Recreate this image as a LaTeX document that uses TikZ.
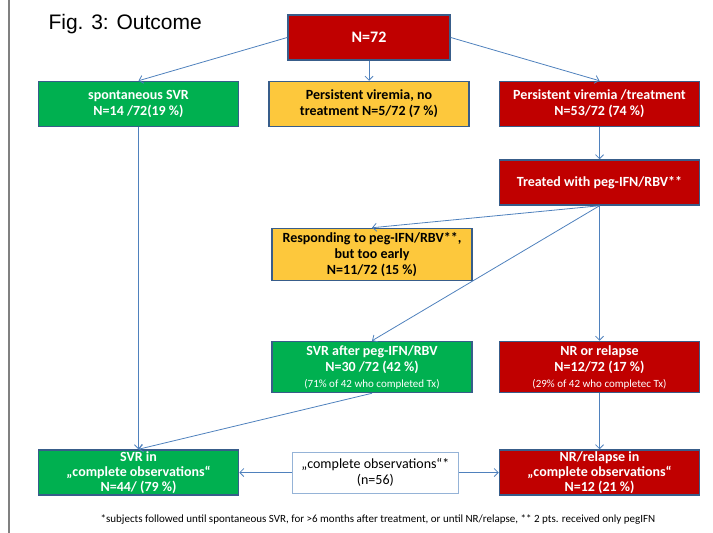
\documentclass[tikz,border=0pt]{standalone}
\usepackage{fontspec}
\setmainfont{Carlito}
\newfontfamily\arialfont{Liberation Sans}
\usetikzlibrary{positioning,arrows.meta}

\definecolor{boxred}{HTML}{C00000}
\definecolor{boxgreen}{HTML}{00B050}
\definecolor{boxyellow}{HTML}{FDC83C}
\definecolor{boxline}{HTML}{385D8A}
\definecolor{arrowblue}{HTML}{4F81BD}
\definecolor{lightframe}{HTML}{95B3D7}
\newcommand{\smallnote}[1]{{\fontsize{11}{13}\selectfont\mdseries #1}}

\begin{document}
\begin{tikzpicture}[
    x=1pt, y=-1pt,
    node distance=20pt and 29pt,
    >={Straight Barb[length=4pt,width=8pt]},
    box/.style={
        draw=boxline,
        line width=1.5pt,
        align=center,
        minimum width=200pt,
        minimum height=45pt,
        inner sep=1pt,
        font=\fontsize{14}{16}\selectfont\bfseries
    },
    redbox/.style={box, fill=boxred, text=white},
    greenbox/.style={box, fill=boxgreen, text=white},
    yellowbox/.style={box, fill=boxyellow, text=black},
    tight/.style={font=\fontsize{14}{15}\selectfont\bfseries},
    link/.style={->, draw=arrowblue, line width=0.8pt}
]
    \useasboundingbox (0,0) rectangle (713,533);

    % Linie am linken Rand
    \draw[gray, line width=2pt] (9,0) -- (9,533);

    % Titel
    \node[anchor=base west, font=\arialfont\fontsize{21}{25}\selectfont] (title) at (45,29) {Fig. 3: Outcome};

    % Oberste Ebene: alle Patienten
    \node[redbox, minimum width=162pt, font=\fontsize{16}{18}\selectfont\bfseries] (total) at (369,37.5) {N=72};

    % Zweite Ebene
    \node[yellowbox, below=20pt of total] (notreat) {Persistent viremia, no\\treatment N=5/72 (7 \%)};
    \node[greenbox, left=of notreat] (spont) {spontaneous SVR\\N=14 /72(19 \%)};
    \node[redbox, right=of notreat] (treat) {Persistent viremia /treatment\\N=53/72 (74 \%)};

    % Therapie
    \node[redbox, below=32pt of treat] (peg) {Treated with peg-IFN/RBV**};
    \node[yellowbox, minimum height=52pt, below left=22pt and 26pt of peg] (early) {Responding to peg-IFN/RBV**,\\but too early\\N=11/72 (15 \%)};

    % Ergebnis der Therapie
    \node[redbox, minimum height=51pt, below=135pt of peg] (nr) {NR or relapse\\N=12/72 (17 \%)\\\smallnote{(29\% of 42 who completec Tx)}};
    \node[greenbox, minimum height=51pt, left=26pt of nr] (svrtx) {SVR after peg-IFN/RBV\\N=30 /72 (42 \%)\\\smallnote{(71\% of 42 who completed Tx)}};

    % Unterste Ebene: vollstaendige Beobachtungen
    \node[redbox, tight, below=56pt of nr] (nrobs) {NR/relapse in\\„complete observations“\\N=12 (21 \%)};
    \node[greenbox, tight] (svrobs) at (spont |- nrobs) {SVR in\\„complete observations“\\N=44/ (79 \%)};
    \node[box, draw=lightframe, line width=0.8pt, minimum width=166pt, minimum height=41pt,
          font=\fontsize{14}{16}\selectfont, left=40pt of nrobs] (compl) {„complete observations“*\\(n=56)};

    % Fussnote
    \node[font=\fontsize{11}{13}\selectfont] (foot) at (378,520) {*subjects followed until spontaneous SVR, for >6 months after treatment, or until NR/relapse, ** 2 pts. received only pegIFN};

    % Pfeile
    \draw[link] (total.west) -- (spont.north);
    \draw[link] (total) -- (notreat);
    \draw[link] (total.east) -- (treat.north);
    \draw[link] (treat) -- (peg);
    \draw[link] (peg.south) -- (early.north);
    \draw[link] (peg.south) -- (svrtx.north);
    \draw[link] (peg) -- (nr);
    \draw[link] (spont) -- (svrobs);
    \draw[link] (svrtx.south) -- (svrobs.north);
    \draw[link] (nr) -- (nrobs);
    \draw[link] (compl) -- (svrobs);
    \draw[link] (compl) -- (nrobs);
\end{tikzpicture}
\end{document}
